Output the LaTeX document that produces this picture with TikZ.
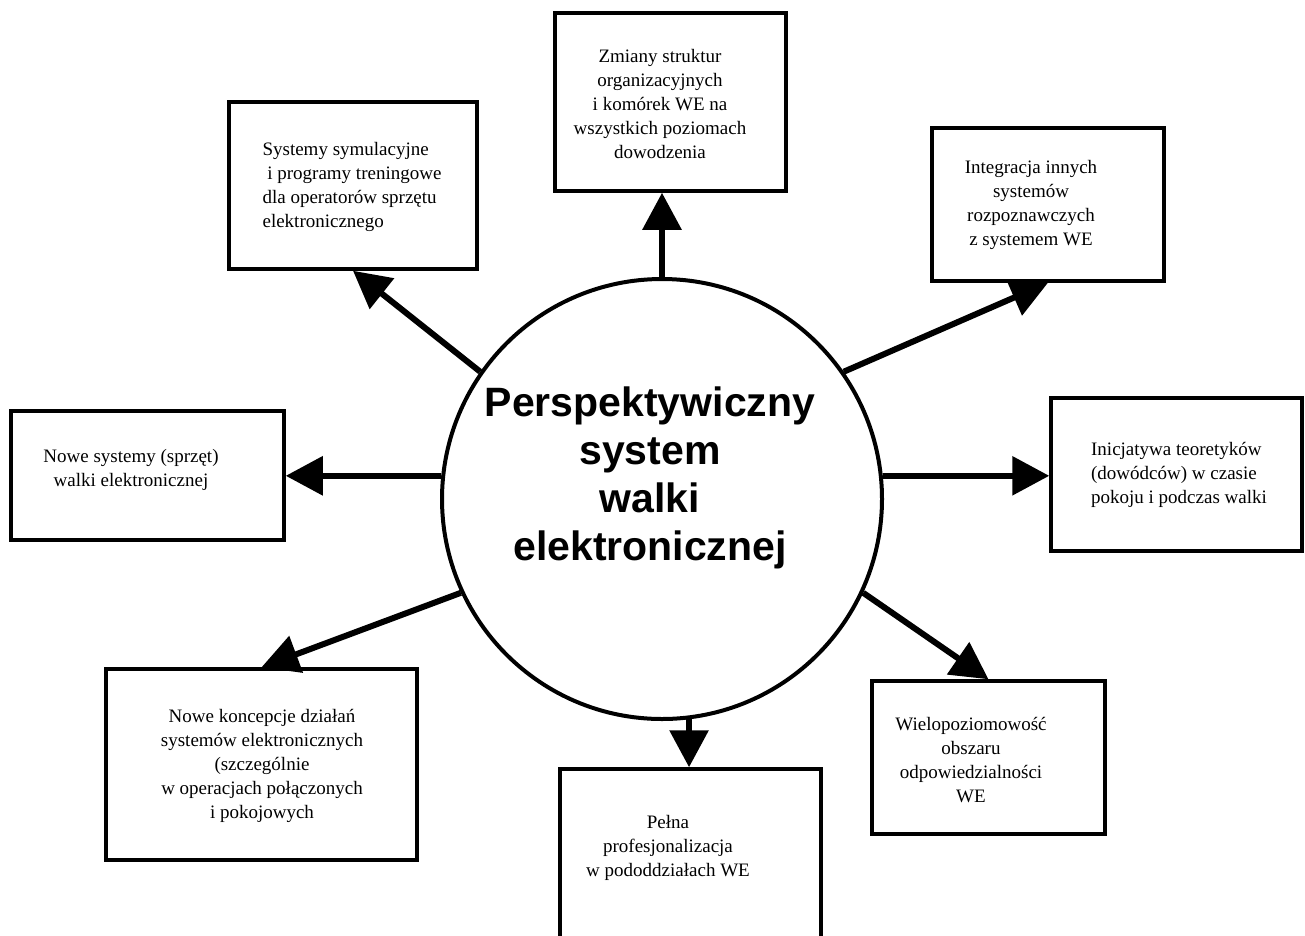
\documentclass[tikz,border=0pt]{standalone}
\usepackage{fontspec}
\setmainfont{Liberation Serif}
\newfontfamily\titlefont{Liberation Sans}
\usetikzlibrary{arrows.meta}
\begin{document}
\begin{tikzpicture}[x=1pt,y=-1pt,
  box/.style={draw,line width=3.5pt,rectangle,inner sep=0pt},
  txt/.style={font=\fontsize{19}{23.8}\selectfont,inner sep=0pt},
  arr/.style={line width=6pt,-{Triangle[length=37pt,width=38pt]}}]
\useasboundingbox (0,0) rectangle (1305,935);
% central circle and title
\node[draw,circle,line width=4pt,minimum size=440pt,inner sep=0pt] (c) at (662,499) {};
\node[font=\titlefont\bfseries\fontsize{41}{48}\selectfont,align=center,inner sep=0pt] (title) at (650,478)
  {Perspektywiczny\\system\\walki\\elektronicznej};
% boxes
\node[box,minimum width=231pt,minimum height=178pt] (zm) at (670.5,102) {};
\node[box,minimum width=248pt,minimum height=167pt] (sys) at (353,185.5) {};
\node[box,minimum width=232pt,minimum height=153pt] (int) at (1048,204.5) {};
\node[box,minimum width=273pt,minimum height=129pt] (nsys) at (147.5,475.5) {};
\node[box,minimum width=251pt,minimum height=153pt] (ini) at (1176.5,474.5) {};
\node[box,minimum width=311pt,minimum height=191pt] (nk) at (261.5,764.5) {};
\node[box,minimum width=261pt,minimum height=180pt] (pel) at (690.5,859) {};
\node[box,minimum width=233pt,minimum height=153pt] (wie) at (988.5,757.5) {};
% texts
\node[txt,align=center] (tzm) at (660,104) {Zmiany struktur\\organizacyjnych\\i komórek WE na\\wszystkich poziomach\\dowodzenia};
\node[txt,align=left] (tsys) at (352,187) {Systemy symulacyjne\\\ i programy treningowe\\dla operatorów sprzętu\\elektronicznego};
\node[txt,align=center] (tint) at (1031,205) {Integracja innych\\systemów\\rozpoznawczych\\z systemem WE};
\node[txt,align=center] (tnsys) at (131,470) {Nowe systemy (sprzęt)\\walki elektronicznej};
\node[txt,align=left] (tini) at (1179,475) {Inicjatywa teoretyków\\(dowódców) w czasie\\pokoju i podczas walki};
\node[txt,align=center] (tnk) at (262,766) {Nowe koncepcje działań\\systemów elektronicznych\\(szczególnie\\w operacjach połączonych\\i pokojowych};
\node[txt,align=center] (tpel) at (668,848) {Pełna\\profesjonalizacja\\w pododdziałach WE};
\node[txt,align=center] (twie) at (971,760) {Wielopoziomowość\\obszaru\\odpowiedzialności\\WE};
% arrows
\draw[arr] (c.north) -- (c.north |- zm.south);
\draw[arr] (c.145) -- (sys.south);
\draw[arr] (c.35) -- (int.south);
\draw[arr] (c.174) -- (c.174 -| nsys.east);
\draw[arr] (c.6) -- (c.6 -| ini.west);
\draw[arr] (c.205) -- (nk.north);
\draw[arr] (c.-83) -- (c.-83 |- pel.north);
\draw[arr] (c.-25) -- (wie.north);
\end{tikzpicture}
\end{document}
